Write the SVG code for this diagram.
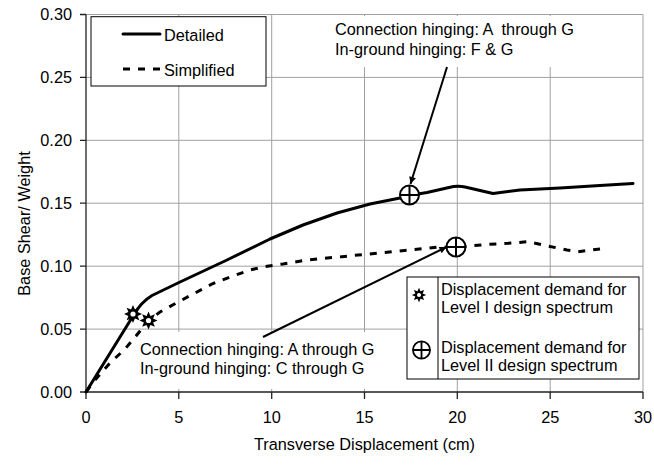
<svg xmlns="http://www.w3.org/2000/svg" width="654" height="466" viewBox="0 0 654 466">
<style>
text{font-family:"Liberation Sans",Arial,sans-serif;font-size:16.3px;fill:#000}
.grid{stroke:#a0a0a0;stroke-width:1;fill:none}
.axis{stroke:#222;stroke-width:1.3;fill:none}
.yt{text-anchor:end}
.xt{text-anchor:middle}
.det{fill:none;stroke:#000;stroke-width:3;stroke-linejoin:round;stroke-linecap:round}
.sim{fill:none;stroke:#000;stroke-width:3;stroke-dasharray:7 8}
.arr{fill:none;stroke:#000;stroke-width:2}
.box{fill:#fff;stroke:#000;stroke-width:1}
</style>
<defs>
<marker id="ah" viewBox="0 0 10 10" refX="10" refY="5" markerWidth="9" markerHeight="7" markerUnits="userSpaceOnUse" orient="auto">
<path d="M0,0 L10,5 L0,10 Z" fill="#000"/>
</marker>
<g id="star">
<polygon points="0,-9 1.9,-4.6 6.36,-6.36 4.6,-1.9 9,0 4.6,1.9 6.36,6.36 1.9,4.6 0,9 -1.9,4.6 -6.36,6.36 -4.6,1.9 -9,0 -4.6,-1.9 -6.36,-6.36 -1.9,-4.6" fill="#000"/>
<circle r="2.6" fill="#fff"/>
</g>
<g id="cc">
<circle r="9.5" fill="#fff" stroke="#000" stroke-width="2"/>
<path d="M-9.5,0 H9.5 M0,-9.5 V9.5" stroke="#000" stroke-width="2"/>
</g>
</defs>
<rect width="654" height="466" fill="#fff"/>
<g id="grid">
<path class="grid" d="M178.8,14.5V392 M271.7,14.5V392 M364.5,14.5V392 M457.3,14.5V392 M550.2,14.5V392 M643,14.5V392 M86,329.1H643 M86,266.2H643 M86,203.2H643 M86,140.3H643 M86,77.4H643 M86,14.5H643"/>
</g>
<g id="annot-bg">
<rect x="333" y="16" width="260" height="51" fill="#fff"/>
<rect x="138" y="332" width="262" height="57" fill="#fff"/>
</g>
<g id="axes">
<path class="axis" d="M86,14.5V392H643"/>
<path class="axis" d="M80,14.5H86 M80,77.4H86 M80,140.3H86 M80,203.2H86 M80,266.2H86 M80,329.1H86 M80,392H86 M86,392V399 M178.8,392V399 M271.7,392V399 M364.5,392V399 M457.3,392V399 M550.2,392V399 M643,392V399"/>
<text class="yt" x="72" y="20.2">0.30</text>
<text class="yt" x="72" y="83.1">0.25</text>
<text class="yt" x="72" y="146">0.20</text>
<text class="yt" x="72" y="208.9">0.15</text>
<text class="yt" x="72" y="271.9">0.10</text>
<text class="yt" x="72" y="334.8">0.05</text>
<text class="yt" x="72" y="397.7">0.00</text>
<text class="xt" x="86" y="422.7">0</text>
<text class="xt" x="178.8" y="422.7">5</text>
<text class="xt" x="271.7" y="422.7">10</text>
<text class="xt" x="364.5" y="422.7">15</text>
<text class="xt" x="457.3" y="422.7">20</text>
<text class="xt" x="550.2" y="422.7">25</text>
<text class="xt" x="643" y="422.7">30</text>
<text class="xt" x="364.5" y="450">Transverse Displacement (cm)</text>
<text class="xt" transform="translate(30,223.5) rotate(-90)">Base Shear/ Weight</text>
</g>
<g id="connectors">
<path id="detailed" class="det" d="M86,392 L133,316 Q141,302 152,295.5 L180,282 L227,260 L270,239 L303,225 L337,213 L370,204 L400,198 L409,195.5 L427,192.5 L449,187.5 Q457,185.5 465,187 L493,193.5 L520,190 L560,188 L600,185.5 L633,183.5"/>
<path id="simplified" class="sim" d="M86,392 L95,380 L110,363 L125,349 L136,336 L148,321 L160,312 L180,301 L197,292 L213,283.5 L230,277 L250,270 L265,266.5 L283,264 L303,260.7 L323,258.3 L342,256.7 L358,255 L377,253.3 L393,251.7 L410,250 L437,247.3 L456,247 L482,245 L490,244.3 L508,243.3 L528,241.7 L548,246 L567,250 L578,251.7 L600,249"/>
<path class="arr" d="M447,67 L410.5,184" marker-end="url(#ah)"/>
<path class="arr" d="M263,337 L446.5,247" marker-end="url(#ah)"/>
</g>
<g id="markers">
<use href="#star" x="133" y="314"/>
<use href="#star" x="148.5" y="320.5"/>
<use href="#cc" x="409.5" y="195"/>
<use href="#cc" x="456" y="247"/>
</g>
<g id="label-upper">
<text x="335" y="34.5" xml:space="preserve">Connection hinging: A  through G</text>
<text x="335" y="55">In-ground hinging: F &amp; G</text>
</g>
<g id="label-lower">
<text x="140" y="355">Connection hinging: A through G</text>
<text x="140" y="374">In-ground hinging: C through G</text>
</g>
<g id="legend-curves">
<rect class="box" x="91" y="16.7" width="175" height="69.3"/>
<path class="det" d="M123,34H160" stroke-linecap="butt"/>
<path class="sim" d="M123,69H160" stroke-dasharray="6 6"/>
<text x="164" y="40.5">Detailed</text>
<text x="164" y="76">Simplified</text>
</g>
<g id="legend-markers">
<rect class="box" x="407" y="277" width="232" height="102"/>
<path d="M438,277V379" stroke="#000" stroke-width="1"/>
<use href="#star" transform="translate(419,295) scale(0.8)"/>
<use href="#cc" transform="translate(421.5,350) scale(0.9)"/>
<text x="441" y="295">Displacement demand for</text>
<text x="441" y="313">Level I design spectrum</text>
<text x="441" y="353">Displacement demand for</text>
<text x="441" y="371">Level II design spectrum</text>
</g>
</svg>
